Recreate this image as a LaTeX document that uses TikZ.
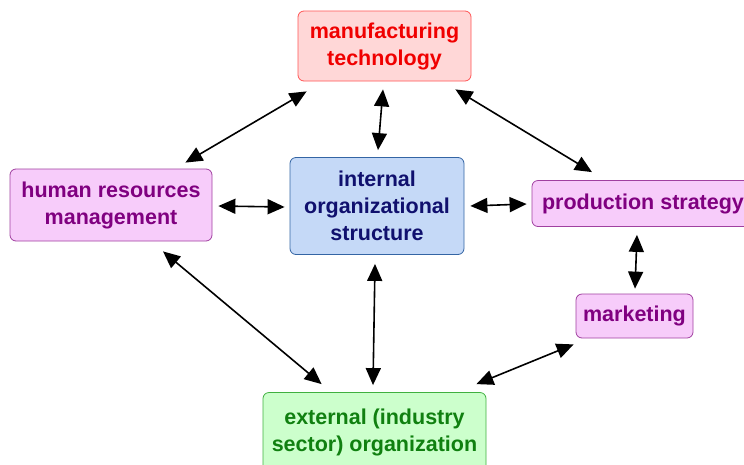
\documentclass[tikz,border=0pt]{standalone}
\usepackage{fontspec}
\setmainfont{Liberation Sans}
\usetikzlibrary{arrows.meta,calc}

\definecolor{mfgfill}{HTML}{FFD7D7}
\definecolor{mfgline}{HTML}{FF5555}
\definecolor{mfgtext}{HTML}{F00000}
\definecolor{pinkfill}{HTML}{F7CCFA}
\definecolor{pinkline}{HTML}{A040A0}
\definecolor{pinktext}{HTML}{800080}
\definecolor{bluefill}{HTML}{C5D9F7}
\definecolor{blueline}{HTML}{3465A4}
\definecolor{bluetext}{HTML}{10106E}
\definecolor{greenfill}{HTML}{CCFFCC}
\definecolor{greenline}{HTML}{40B040}
\definecolor{greentext}{HTML}{108010}

\tikzset{
  box/.style={rectangle,rounded corners=6pt,line width=0.8pt,align=center,
    inner sep=0pt,font=\fontsize{21.5}{27}\selectfont\bfseries},
  mfgbox/.style={box,draw=mfgline,fill=mfgfill,text=mfgtext},
  pinkbox/.style={box,draw=pinkline,fill=pinkfill,text=pinktext},
  bluebox/.style={box,draw=blueline,fill=bluefill,text=bluetext},
  greenbox/.style={box,draw=greenline,fill=greenfill,text=greentext},
  link/.style={line width=1.6pt,{Triangle[length=17pt,width=15pt]}-{Triangle[length=17pt,width=15pt]}}
}

\begin{document}
\begin{tikzpicture}[x=1pt,y=-1pt]
  \useasboundingbox (0,0) rectangle (744,464);

  \node[mfgbox,minimum width=173pt,minimum height=70pt] (mfg) at (384.5,46) {manufacturing\\ technology};
  \node[pinkbox,minimum width=202pt,minimum height=72pt] (hr) at (111,205) {human resources\\ management};
  \node[bluebox,minimum width=174pt,minimum height=97pt] (int) at (377,206) {internal\\ organizational\\ structure};
  \node[pinkbox,minimum width=222pt,minimum height=46pt] (prod) at (643,203.5) {production strategy};
  \node[pinkbox,minimum width=117pt,minimum height=44pt] (mkt) at (634.5,316) {marketing};
  \node[greenbox,minimum width=223pt,minimum height=80pt] (ext) at (374.5,432.5) {external (industry\\ sector) organization};

  % links, all two-way
  \draw[link] ($(mfg.south west)+(9,10)$) -- ($(hr.north east)+(-27,-6)$);
  \draw[link] ($(mfg.south)+(-1.5,8)$) -- ($(int.north)+(1,-7)$);
  \draw[link] ($(mfg.south east)+(-16,8)$) -- ($(prod.north)+(-51,-8)$);
  \draw[link] ($(hr.east)+(6,1)$) -- ($(int.west)+(-5,1)$);
  \draw[link] ($(int.east)+(6,0)$) -- ($(prod.west)+(-5,0.5)$);
  \draw[link] ($(prod.south)+(-6,8)$) -- ($(mkt.north)+(0.5,-5)$);
  \draw[link] ($(hr.south)+(52,10)$) -- ($(ext.north west)+(59,-8)$);
  \draw[link] ($(int.south)+(-2,9)$) -- ($(ext.north)+(-1.5,-7)$);
  \draw[link] ($(mkt.south west)+(-2,6)$) -- ($(ext.north east)+(-10,-8)$);

\end{tikzpicture}
\end{document}
